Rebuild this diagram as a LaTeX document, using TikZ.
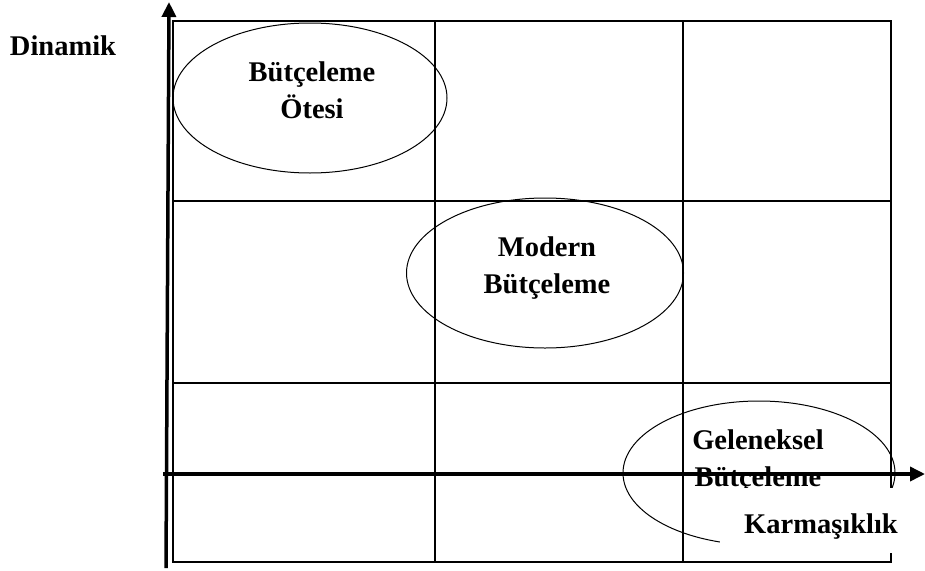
\documentclass[tikz,border=0pt]{standalone}
\usepackage{fontspec}
\setmainfont{Liberation Serif}
\usetikzlibrary{shapes.geometric,arrows.meta,positioning}

\begin{document}
\begin{tikzpicture}[x=1pt, y=-1pt,
    bubble/.style={ellipse, draw, line width=1pt, minimum width=274pt, minimum height=150pt, inner sep=0pt},
    caption/.style={align=center, font=\fontsize{28.5}{37}\selectfont\bfseries},
    gridline/.style={line width=2pt},
    axis/.style={-{Triangle[length=15pt,width=14pt]}, line width=3.5pt}
]
    \useasboundingbox (0,0) rectangle (925,570);

    % 3x3 grid
    \draw[gridline] (173,21) rectangle (891,562);
    \draw[gridline] (435,21) -- (435,562);
    \draw[gridline] (683,21) -- (683,562);
    \draw[gridline] (173,201) -- (891,201);
    \draw[gridline] (173,383) -- (891,383);

    \node[bubble] (otesi) at (310,98) {};
    \node[bubble, minimum width=277pt] (modern) at (545,273) {};
    \node[bubble, minimum width=272pt, minimum height=144pt] (geleneksel) at (759,473) {};

    \node[caption] (otesiT) at ([shift={(2,-7.5)}]otesi.center) {Bütçeleme\\Ötesi};
    \node[caption] (modernT) at ([shift={(2,-5)}]modern.center) {Modern\\Bütçeleme};
    \node[caption] (gelenekselT) at ([shift={(-1,-12)}]geleneksel.center) {Geleneksel\\Bütçeleme};

    % axes
    \coordinate (ybottom) at (166,568);
    \coordinate (ytop) at (169,2);
    \coordinate (xleft) at (163,474);
    \coordinate (xright) at (925,474);
    \draw[axis] (ybottom) -- (ytop);
    \draw[axis] (xleft) -- (xright);

    \node[caption, anchor=base] (dinamik) at (63,55) {Dinamik};
    \node[caption, fill=white, minimum width=202pt, minimum height=65pt,
          text height=31pt, text depth=6pt] (karmasiklik) at (821,520.5) {Karmaşıklık};
\end{tikzpicture}
\end{document}
